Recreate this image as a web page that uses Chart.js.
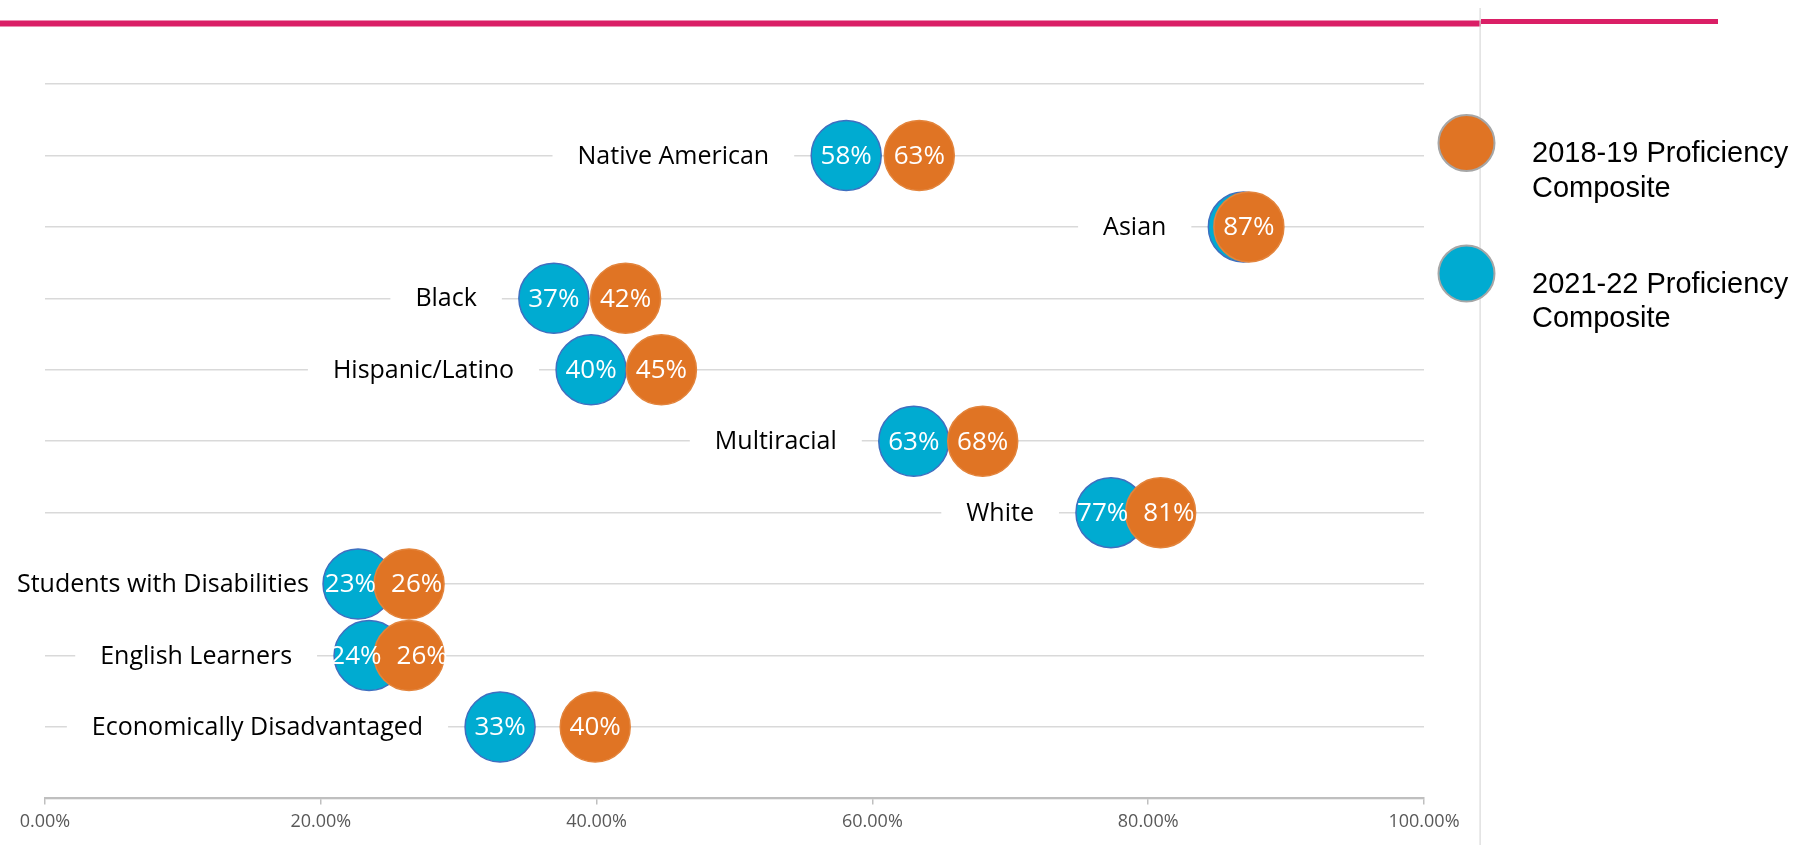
<!DOCTYPE html>
<html>
<head>
<meta charset="utf-8">
<script src="https://cdn.jsdelivr.net/npm/chart.js@4.4.1/dist/chart.umd.min.js"></script>
<style>
  body { margin: 0; background: #fff; }
  #wrap { width: 1795px; height: 845px; position: relative; }
</style>
</head>
<body>
<div id="wrap"><canvas id="grafico" width="1795" height="845"></canvas></div>
<script>
// dados
const categorias = ['Native American', 'Asian', 'Black', 'Hispanic/Latino', 'Multiracial', 'White',
  'Students with Disabilities', 'English Learners', 'Economically Disadvantaged'];
const proficiencia1819 = [63.4, 87.3, 42.1, 44.7, 68.0, 80.9, 26.4, 26.4, 39.9];
const proficiencia2122 = [58.1, 86.9, 36.9, 39.6, 63.0, 77.3, 22.7, 23.5, 33.0];
const ticksX = [0, 20, 40, 60, 80, 100];
const legendas = [['2018-19 Proficiency', 'Composite'], ['2021-22 Proficiency', 'Composite']];

const LARANJA = '#E07424';
const AZUL = '#00ABD1';
const FONTE_VALOR = '26px "Open Sans"';

function pontos(valores) {
  return valores.map((v, i) => ({ x: v, y: categorias.length - i }));
}

// rótulos das categorias, com fundo branco por cima da grade
const rotulosCategorias = {
  id: 'rotulosCategorias',
  beforeDatasetsDraw(chart) {
    const ctx = chart.ctx;
    const xs = chart.scales.x;
    const ys = chart.scales.y;
    ctx.save();
    ctx.font = '25px "Open Sans"';
    ctx.textBaseline = 'middle';
    categorias.forEach((cat, i) => {
      const menor = Math.min(proficiencia1819[i], proficiencia2122[i]);
      const y = ys.getPixelForValue(categorias.length - i);
      let direita = xs.getPixelForValue(menor) - 77;
      const largura = ctx.measureText(cat).width;
      if (direita - largura < 17) direita = 17 + largura;
      ctx.fillStyle = '#fff';
      ctx.fillRect(direita - largura - 25, y - 16, largura + 50, 32);
      ctx.fillStyle = '#000';
      ctx.textAlign = 'right';
      ctx.fillText(cat, direita, y + 1);
    });
    ctx.restore();
  }
};

// percentuais dentro das bolhas (afastados quando as bolhas se sobrepõem)
const rotulosValores = {
  id: 'rotulosValores',
  afterDatasetsDraw(chart) {
    const ctx = chart.ctx;
    const laranja = chart.getDatasetMeta(0).data;
    const azul = chart.getDatasetMeta(1).data;
    ctx.save();
    ctx.font = FONTE_VALOR;
    ctx.fillStyle = '#fff';
    ctx.textAlign = 'center';
    ctx.textBaseline = 'middle';
    categorias.forEach((cat, i) => {
      const tL = Math.round(proficiencia1819[i]) + '%';
      const tA = Math.round(proficiencia2122[i]) + '%';
      const pL = laranja[i], pA = azul[i];
      if (Math.abs(pL.x - pA.x) < 10) {
        ctx.fillText(tL, pL.x, pL.y + 1);
        return;
      }
      const precisa = (ctx.measureText(tL).width + ctx.measureText(tA).width) / 2 + 15;
      const dist = Math.abs(pL.x - pA.x);
      const desvio = dist < precisa ? (precisa - dist) / 2 : 0;
      const sinal = pL.x > pA.x ? 1 : -1;
      ctx.fillText(tA, pA.x - sinal * desvio, pA.y + 1);
      ctx.fillText(tL, pL.x + sinal * desvio, pL.y + 1);
    });
    ctx.restore();
  }
};

// barra rosa, divisória e legenda
const decoracao = {
  id: 'decoracao',
  afterDraw(chart) {
    const ctx = chart.ctx;
    ctx.save();
    ctx.fillStyle = '#DA1F66';
    ctx.fillRect(0, 20.5, 1481, 6);
    ctx.fillRect(1481, 19, 237, 5);
    ctx.fillStyle = '#D9D9D9';
    ctx.fillRect(1479.5, 8, 1.2, 837);

    const cores = [LARANJA, AZUL];
    legendas.forEach((linhas, i) => {
      const cy = 143 + i * 130.6;
      ctx.beginPath();
      ctx.arc(1466.5, cy, 28, 0, Math.PI * 2);
      ctx.fillStyle = cores[i];
      ctx.fill();
      ctx.lineWidth = 2;
      ctx.strokeStyle = '#A6A6A6';
      ctx.stroke();
      ctx.fillStyle = '#000';
      ctx.font = '29px "Liberation Sans"';
      ctx.textAlign = 'left';
      ctx.textBaseline = 'middle';
      linhas.forEach((t, j) => ctx.fillText(t, 1532, cy + 11 + j * 34.5));
    });
    ctx.restore();
  }
};

new Chart(document.getElementById('grafico'), {
  type: 'scatter',
  data: {
    datasets: [{
      label: legendas[0].join(' '),
      data: pontos(proficiencia1819),
      backgroundColor: LARANJA,
      borderColor: '#E3843C',
      borderWidth: 1.5,
      pointRadius: 35,
      pointHoverRadius: 35
    }, {
      label: legendas[1].join(' '),
      data: pontos(proficiencia2122),
      backgroundColor: AZUL,
      borderColor: '#3F6FC0',
      borderWidth: 1.5,
      pointRadius: 35,
      pointHoverRadius: 35
    }]
  },
  options: {
    responsive: false,
    animation: false,
    layout: { padding: { left: 45, right: 371, top: 84, bottom: 5 } },
    plugins: {
      legend: { display: false },
      tooltip: { enabled: false }
    },
    scales: {
      x: {
        type: 'linear',
        min: 0,
        max: 100,
        afterBuildTicks(axis) { axis.ticks = ticksX.map(v => ({ value: v })); },
        ticks: {
          padding: 7,
          color: '#595959',
          font: { family: 'Open Sans', size: 18 },
          callback: v => v.toFixed(2) + '%',
          maxRotation: 0
        },
        grid: { drawOnChartArea: false, tickLength: 6, color: '#BFBFBF', lineWidth: 1.5 },
        border: { color: '#BFBFBF', width: 2 }
      },
      y: {
        min: 0,
        max: 10,
        ticks: { display: false, stepSize: 1 },
        grid: { color: '#D9D9D9', lineWidth: 1.5, drawTicks: false },
        border: { display: false }
      }
    }
  },
  plugins: [rotulosCategorias, rotulosValores, decoracao]
});
</script>
</body>
</html>
